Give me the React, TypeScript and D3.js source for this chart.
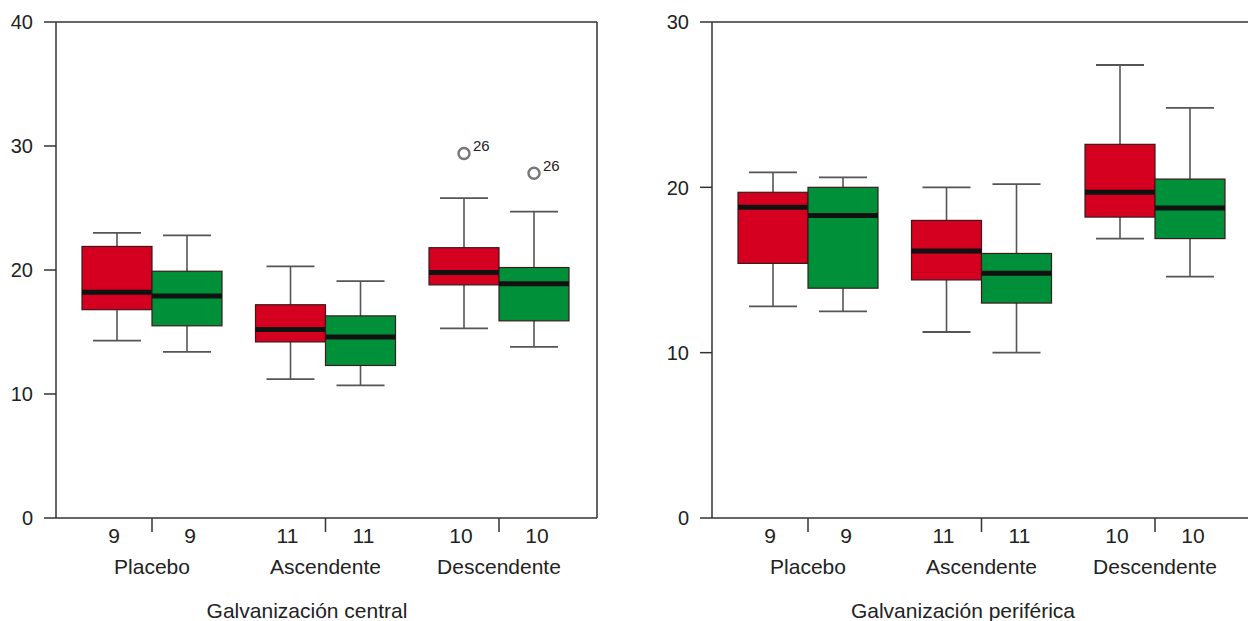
import React from "react";
import * as d3 from "d3";

// ---- data ----
const groups = ["Placebo", "Ascendente", "Descendente"];
const seriesNames = ["A", "B"];
const seriesColors = ["#d5001f", "#00903a"];

// [lower whisker, Q1, median, Q3, upper whisker] per group
const centralRed = [
  [14.3, 16.8, 18.2, 21.9, 23.0],
  [11.2, 14.2, 15.2, 17.2, 20.3],
  [15.3, 18.8, 19.8, 21.8, 25.8],
];
const centralGreen = [
  [13.4, 15.5, 17.9, 19.9, 22.8],
  [10.7, 12.3, 14.6, 16.3, 19.1],
  [13.8, 15.9, 18.9, 20.2, 24.7],
];
const centralCounts = [
  [9, 9],
  [11, 11],
  [10, 10],
];
const centralOutliers = [
  { group: "Descendente", series: 0, value: 29.4, label: "26" },
  { group: "Descendente", series: 1, value: 27.8, label: "26" },
];
const centralTicks = [0, 10, 20, 30, 40];

const periRed = [
  [12.8, 15.4, 18.8, 19.7, 20.9],
  [11.25, 14.4, 16.15, 18.0, 20.0],
  [16.9, 18.2, 19.7, 22.6, 27.4],
];
const periGreen = [
  [12.5, 13.9, 18.3, 20.0, 20.6],
  [10.0, 13.0, 14.8, 16.0, 20.2],
  [14.6, 16.9, 18.75, 20.5, 24.8],
];
const periCounts = [
  [9, 9],
  [11, 11],
  [10, 10],
];
const periOutliers: { group: string; series: number; value: number; label: string }[] = [];
const periTicks = [0, 10, 20, 30];

const FONT = "'Liberation Sans', Arial, Helvetica, sans-serif";
const TEXT = "#222";

type PanelProps = {
  x0: number;
  width: number;
  yMax: number;
  ticks: number[];
  series: number[][][];
  counts: number[][];
  outliers: { group: string; series: number; value: number; label: string }[];
  title: string;
};

function Panel({ x0, width, yMax, ticks, series, counts, outliers, title }: PanelProps) {
  const top = 22;
  const bottom = 518;
  const y = d3.scaleLinear().domain([0, yMax]).range([bottom, top]);
  const x = d3
    .scalePoint<string>()
    .domain(groups)
    .range([x0 + 96, x0 + 443]);
  const boxW = 70;
  const sub = d3
    .scaleBand<string>()
    .domain(seriesNames)
    .range([-boxW, boxW])
    .padding(0);
  const capHalf = 24;
  const right = x0 + width;

  return (
    <g>
      {/* frame */}
      <line x1={x0} x2={right} y1={top} y2={top} stroke="#333" strokeWidth={1.5} />
      <line x1={x0} x2={right} y1={bottom} y2={bottom} stroke="#333" strokeWidth={1.5} />
      <line x1={x0} x2={x0} y1={top} y2={bottom} stroke="#333" strokeWidth={1.5} />
      <line x1={right} x2={right} y1={top} y2={bottom} stroke="#333" strokeWidth={1.5} />
      {/* y ticks */}
      {ticks.map((t) => (
        <g key={t}>
          <line x1={x0 - 12} x2={x0} y1={y(t)} y2={y(t)} stroke="#333" strokeWidth={1.5} />
          <text
            x={x0 - 23}
            y={y(t)}
            dy="0.36em"
            textAnchor="end"
            fontSize={20}
            fontFamily={FONT}
            fill={TEXT}
          >
            {t}
          </text>
        </g>
      ))}
      {/* boxes */}
      {groups.map((g, gi) => (
        <g key={g}>
          {series.map((s, si) => {
            const [lo, q1, med, q3, hi] = s[gi];
            const bx = (x(g) as number) + (sub(seriesNames[si]) as number);
            const cx = bx + sub.bandwidth() / 2;
            return (
              <g key={si}>
                <line x1={cx} x2={cx} y1={y(hi)} y2={y(q3)} stroke="#555" strokeWidth={1.6} />
                <line x1={cx} x2={cx} y1={y(q1)} y2={y(lo)} stroke="#555" strokeWidth={1.6} />
                <line x1={cx - capHalf} x2={cx + capHalf} y1={y(hi)} y2={y(hi)} stroke="#555" strokeWidth={1.8} />
                <line x1={cx - capHalf} x2={cx + capHalf} y1={y(lo)} y2={y(lo)} stroke="#555" strokeWidth={1.8} />
                <rect
                  x={bx}
                  y={y(q3)}
                  width={sub.bandwidth()}
                  height={y(q1) - y(q3)}
                  fill={seriesColors[si]}
                  stroke="#3a1a1a"
                  strokeWidth={1.2}
                />
                <line x1={bx} x2={bx + sub.bandwidth()} y1={y(med)} y2={y(med)} stroke="#111" strokeWidth={5} />
              </g>
            );
          })}
          {/* bottom divider tick */}
          <line
            x1={x(g) as number}
            x2={x(g) as number}
            y1={bottom}
            y2={bottom + 14}
            stroke="#333"
            strokeWidth={1.5}
          />
          {counts[gi].map((c, si) => (
            <text
              key={si}
              x={(x(g) as number) + (sub(seriesNames[si]) as number) + sub.bandwidth() / 2 + (si === 0 ? -3 : 3)}
              y={543}
              textAnchor="middle"
              fontSize={21}
              fontFamily={FONT}
              fill={TEXT}
            >
              {c}
            </text>
          ))}
          <text
            x={x(g) as number}
            y={574}
            textAnchor="middle"
            fontSize={21}
            fontFamily={FONT}
            fill={TEXT}
          >
            {g}
          </text>
        </g>
      ))}
      {/* outliers */}
      {outliers.map((o, i) => {
        const cx =
          (x(o.group) as number) + (sub(seriesNames[o.series]) as number) + sub.bandwidth() / 2;
        const cy = y(o.value);
        return (
          <g key={i}>
            <circle cx={cx} cy={cy} r={5.5} fill="none" stroke="#777" strokeWidth={2.4} />
            <text x={cx + 9} y={cy - 2} fontSize={15} fontFamily={FONT} fill={TEXT}>
              {o.label}
            </text>
          </g>
        );
      })}
      <text
        x={x0 + 251}
        y={618}
        textAnchor="middle"
        fontSize={21}
        fontFamily={FONT}
        fill={TEXT}
      >
        {title}
      </text>
    </g>
  );
}

export default function App() {
  return (
    <svg
      width={1248}
      height={621}
      style={{ position: "absolute", left: 0, top: 0, background: "#fff" }}
    >
      <rect width={1248} height={621} fill="#fff" />
      <Panel
        x0={56}
        width={541}
        yMax={40}
        ticks={centralTicks}
        series={[centralRed, centralGreen]}
        counts={centralCounts}
        outliers={centralOutliers}
        title="Galvanización central"
      />
      <Panel
        x0={712}
        width={541}
        yMax={30}
        ticks={periTicks}
        series={[periRed, periGreen]}
        counts={periCounts}
        outliers={periOutliers}
        title="Galvanización periférica"
      />
    </svg>
  );
}
